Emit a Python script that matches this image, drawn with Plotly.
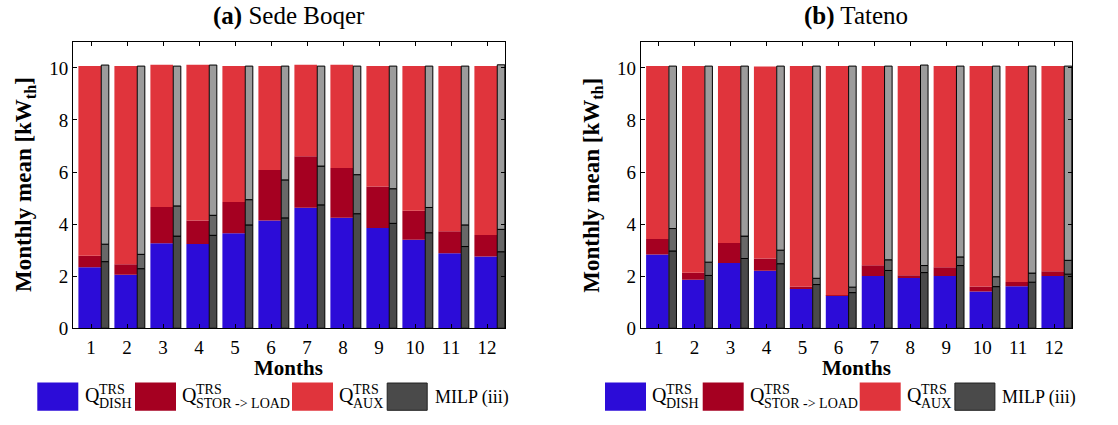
import plotly.graph_objects as go

# ---- data -------------------------------------------------------------
months = [1, 2, 3, 4, 5, 6, 7, 8, 9, 10, 11, 12]
panel_titles = ["<b>(a)</b> Sede Boqer", "<b>(b)</b> Tateno"]

# Sede Boqer: TRS components [kW_th]
sb_dish = [2.34, 2.06, 3.27, 3.24, 3.65, 4.14, 4.63, 4.25, 3.85, 3.40, 2.88, 2.76]
sb_stor = [0.45, 0.40, 1.39, 0.90, 1.20, 1.94, 1.98, 1.91, 1.60, 1.11, 0.85, 0.82]
sb_aux = [7.28, 7.61, 5.46, 5.98, 5.22, 3.99, 3.51, 3.96, 4.62, 5.56, 6.34, 6.49]
# Sede Boqer: MILP (iii) components
sb_milp_dish = [2.56, 2.29, 3.54, 3.57, 3.97, 4.24, 4.74, 4.40, 4.03, 3.67, 3.14, 2.94]
sb_milp_stor = [0.67, 0.55, 1.16, 0.77, 0.97, 1.46, 1.49, 1.50, 1.33, 0.97, 0.83, 0.86]
sb_milp_aux = [6.88, 7.23, 5.37, 5.77, 5.13, 4.37, 3.84, 4.17, 4.71, 5.43, 6.10, 6.32]

# Tateno: TRS components
ta_dish = [2.83, 1.86, 2.51, 2.21, 1.53, 1.25, 2.01, 1.93, 2.01, 1.41, 1.61, 2.01]
ta_stor = [0.60, 0.27, 0.77, 0.47, 0.07, 0.02, 0.41, 0.11, 0.33, 0.19, 0.17, 0.18]
ta_aux = [6.64, 7.94, 6.79, 7.37, 8.47, 8.80, 7.65, 8.03, 7.73, 8.47, 8.29, 7.88]
# Tateno: MILP (iii) components
ta_milp_dish = [2.97, 2.03, 2.68, 2.48, 1.68, 1.37, 2.22, 2.14, 2.41, 1.60, 1.77, 2.08]
ta_milp_stor = [0.86, 0.51, 0.86, 0.52, 0.24, 0.21, 0.41, 0.27, 0.33, 0.38, 0.35, 0.53]
ta_milp_aux = [6.24, 7.53, 6.53, 7.07, 8.15, 8.49, 7.44, 7.70, 7.33, 8.09, 7.95, 7.46]

y_ticks = [0, 2, 4, 6, 8, 10]

# ---- styling ----------------------------------------------------------
W, H = 1118, 425
FONT = "Liberation Serif"
C_DISH = "#2c0cd8"
C_STOR = "#a50021"
C_AUX = "#e0343c"
C_MILP = ["#4a4a4a", "#686868", "#9c9c9c"]


def px(x):
    return x / W


def py(y):
    return 1 - y / H


panels = [
    dict(trs=(sb_dish, sb_stor, sb_aux), milp=(sb_milp_dish, sb_milp_stor, sb_milp_aux),
         x0=73, x1=505),
    dict(trs=(ta_dish, ta_stor, ta_aux), milp=(ta_milp_dish, ta_milp_stor, ta_milp_aux),
         x0=640.7, x1=1072),
]
PLOT_TOP, PLOT_BOT = 43, 337

fig = go.Figure()


def stacked(parts):
    bases, acc = [], [0.0] * len(parts[0])
    for p in parts:
        bases.append(list(acc))
        acc = [a + v for a, v in zip(acc, p)]
    return bases


for i, pan in enumerate(panels):
    xa = "x" if i == 0 else "x2"
    ya = "y" if i == 0 else "y2"
    # TRS stacked bar (wide)
    for vals, base, col in zip(pan["trs"], stacked(pan["trs"]), [C_DISH, C_STOR, C_AUX]):
        fig.add_trace(go.Bar(x=months, y=vals, base=base, width=0.63, offset=-0.35,
                             marker=dict(color=col, line=dict(width=0)),
                             xaxis=xa, yaxis=ya, showlegend=False))
    # MILP (iii) stacked bar (narrow, outlined)
    for vals, base, col in zip(pan["milp"], stacked(pan["milp"]), C_MILP):
        fig.add_trace(go.Bar(x=months, y=vals, base=base, width=0.21, offset=0.285,
                             marker=dict(color=col, line=dict(width=1, color="black")),
                             xaxis=xa, yaxis=ya, showlegend=False))

axis_common = dict(showline=True, linecolor="black", linewidth=1, mirror="ticks",
                   ticks="inside", ticklen=4, tickcolor="black", showgrid=False,
                   zeroline=False, tickfont=dict(family=FONT, size=19, color="black"))

for i, pan in enumerate(panels):
    sfx = "" if i == 0 else "2"
    fig.update_layout(**{
        f"xaxis{sfx}": dict(axis_common, domain=[px(pan["x0"]), px(pan["x1"])],
                            range=[0.5, 12.5], tickvals=months, anchor=f"y{sfx}",
                            ticklabelstandoff=2),
        f"yaxis{sfx}": dict(axis_common, domain=[py(PLOT_BOT), py(PLOT_TOP)],
                            range=[0, 11], tickvals=y_ticks, anchor=f"x{sfx}"),
    })

annotations = []
shapes = []
for i, pan in enumerate(panels):
    cx = (pan["x0"] + pan["x1"]) / 2
    dx = pan["x0"] - 73
    annotations.append(dict(text=panel_titles[i], x=px(cx), y=py(16), xref="paper", yref="paper",
                            showarrow=False, xanchor="center", yanchor="middle",
                            font=dict(family=FONT, size=25, color="black")))
    annotations.append(dict(text="<b>Months</b>", x=px(cx), y=py(378), xref="paper", yref="paper",
                            showarrow=False, xanchor="center", yanchor="middle",
                            font=dict(family=FONT, size=21, color="black")))
    annotations.append(dict(text="<b>Monthly mean [kW<sub>th</sub>]</b>", x=px(25 + dx), y=py(190),
                            xref="paper", yref="paper", showarrow=False, textangle=-90,
                            xanchor="center", yanchor="middle",
                            font=dict(family=FONT, size=23, color="black")))

    # legend: swatch + label with stacked super/subscripts
    items = [
        dict(sx=37.3, col=C_DISH, q=82.7, sup="TRS", sub="DISH"),
        dict(sx=135.0, col=C_STOR, q=180.0, sup="TRS", sub="STOR -> LOAD"),
        dict(sx=292.0, col=C_AUX, q=337.3, sup="TRS", sub="AUX"),
    ]
    for it in items:
        shapes.append(dict(type="rect", xref="paper", yref="paper",
                           x0=px(it["sx"] + dx), x1=px(it["sx"] + 41 + dx),
                           y0=py(421.7), y1=py(392.7), fillcolor=it["col"], line=dict(width=0)))
        annotations.append(dict(text="Q", x=px(it["q"] + dx), y=py(406), xref="paper", yref="paper",
                                showarrow=False, xanchor="left", yanchor="middle",
                                font=dict(family=FONT, size=20, color="black")))
        annotations.append(dict(text=it["sup"], x=px(it["q"] + 14 + dx), y=py(399.5), xref="paper",
                                yref="paper", showarrow=False, xanchor="left", yanchor="middle",
                                font=dict(family=FONT, size=14, color="black")))
        annotations.append(dict(text=it["sub"], x=px(it["q"] + 14 + dx), y=py(414.5), xref="paper",
                                yref="paper", showarrow=False, xanchor="left", yanchor="middle",
                                font=dict(family=FONT, size=14, color="black")))
    shapes.append(dict(type="rect", xref="paper", yref="paper",
                       x0=px(387.2 + dx), x1=px(427.2 + dx), y0=py(421.2), y1=py(393.2),
                       fillcolor=C_MILP[0], line=dict(width=1, color="#222222")))
    annotations.append(dict(text="MILP (iii)", x=px(432.7 + dx), y=py(408), xref="paper", yref="paper",
                            showarrow=False, xanchor="left", yanchor="middle",
                            font=dict(family=FONT, size=18, color="black")))

fig.update_layout(
    width=W, height=H, margin=dict(l=0, r=0, t=0, b=0),
    paper_bgcolor="white", plot_bgcolor="white",
    barmode="overlay", showlegend=False,
    annotations=annotations, shapes=shapes,
    font=dict(family=FONT, color="black"),
)

fig.write_html("out.html")
